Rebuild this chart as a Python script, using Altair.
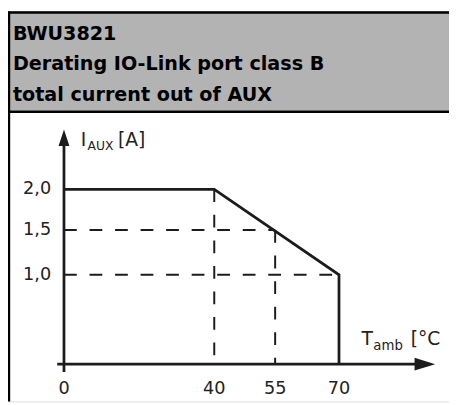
import altair as alt
import pandas as pd

# ---- data ----
title_lines = ["BWU3821", "Derating IO-Link port class B", "total current out of AUX"]

curve_temp = [0, 40, 70, 70]
curve_current = [2.0, 2.0, 1.0, 0.0]

# dashed guide segments (x1, y1) -> (x2, y2)
guide_x1 = [40, 55, 0, 0]
guide_y1 = [2.0, 1.5, 1.5, 1.0]
guide_x2 = [40, 55, 55, 70]
guide_y2 = [0.0, 0.0, 1.5, 1.0]

x_ticks = [0, 40, 55, 70]
x_tick_labels = ["0", "40", "55", "70"]
y_ticks = [1.0, 1.5, 2.0]
y_tick_labels = ["1,0", "1,5", "2,0"]

# axis lines and arrow tips (data units)
x_axis_from, x_axis_to, x_arrow_tip = -1.8, 88.0, 92.6
y_axis_from, y_axis_to, y_arrow_tip = -0.088, 2.6, 2.735

W, H = 449, 397
FONT = "DejaVu Sans"
INK = "#1c1c1c"

# piecewise scales matching the schematic drawing
xs = alt.Scale(domain=[0, 40, 55, 70], range=[57, 210, 272, 337], nice=False, zero=False)
ys = alt.Scale(domain=[0, 1.0, 1.5, 2.0], range=[359, 268, 222.5, 181], nice=False, zero=False)
px = alt.Scale(domain=[0, W], range=[0, W])
py = alt.Scale(domain=[0, H], range=[0, H])

one = pd.DataFrame({"k": [0]})

header = alt.Chart(one).mark_rect(color="#b3b3b3").encode(
    x=alt.value(0), x2=alt.value(W), y=alt.value(0), y2=alt.value(101)
)
header_line = alt.Chart(one).mark_rule(color="black", strokeWidth=2.5).encode(
    x=alt.value(0), x2=alt.value(W), y=alt.value(102)
)
border_left = alt.Chart(one).mark_rule(color="black", strokeWidth=2.5).encode(
    x=alt.value(1), y=alt.value(0), y2=alt.value(H)
)
border_top = alt.Chart(one).mark_rule(color="black", strokeWidth=2.5).encode(
    x=alt.value(0), x2=alt.value(W), y=alt.value(1)
)

title_df = pd.DataFrame({"t": title_lines, "row": [0, 1, 2]})
title = alt.Chart(title_df).mark_text(
    font=FONT, fontSize=19.5, fontWeight="bold", align="left", baseline="alphabetic", color="black"
).encode(
    x=alt.value(5),
    y=alt.Y("row:Q", scale=alt.Scale(domain=[0, 2], range=[29, 91]), axis=None),
    text="t:N",
)

guides_df = pd.DataFrame({"x1": guide_x1, "y1": guide_y1, "x2": guide_x2, "y2": guide_y2})
guides = alt.Chart(guides_df).mark_rule(color=INK, strokeWidth=2, strokeDash=[13, 13]).encode(
    x=alt.X("x1:Q", scale=xs, axis=None),
    y=alt.Y("y1:Q", scale=ys, axis=None),
    x2="x2:Q",
    y2="y2:Q",
)

curve_df = pd.DataFrame({"T": curve_temp, "I": curve_current, "o": range(len(curve_temp))})
curve = alt.Chart(curve_df).mark_line(color=INK, strokeWidth=2.8, strokeJoin="miter").encode(
    x=alt.X("T:Q", scale=xs, axis=None),
    y=alt.Y("I:Q", scale=ys, axis=None),
    order="o:Q",
)

axes_df = pd.DataFrame({
    "x1": [x_axis_from, 0], "y1": [0, y_axis_from],
    "x2": [x_axis_to, 0], "y2": [0, y_axis_to],
})
axes = alt.Chart(axes_df).mark_rule(color=INK, strokeWidth=2.8).encode(
    x=alt.X("x1:Q", scale=xs, axis=None),
    y=alt.Y("y1:Q", scale=ys, axis=None),
    x2="x2:Q",
    y2="y2:Q",
)

arrow_x = alt.Chart(pd.DataFrame({"x": [x_arrow_tip], "y": [0]})).mark_point(
    shape="M0,0L-2,-0.62L-2,0.62Z", size=441, filled=True, color=INK, opacity=1
).encode(x=alt.X("x:Q", scale=xs, axis=None), y=alt.Y("y:Q", scale=ys, axis=None))

arrow_y = alt.Chart(pd.DataFrame({"x": [0], "y": [y_arrow_tip]})).mark_point(
    shape="M0,0L0.65,2L-0.65,2Z", size=289, filled=True, color=INK, opacity=1
).encode(x=alt.X("x:Q", scale=xs, axis=None), y=alt.Y("y:Q", scale=ys, axis=None))

xlab = alt.Chart(pd.DataFrame({"v": x_ticks, "t": x_tick_labels})).mark_text(
    font=FONT, fontSize=18, align="center", baseline="alphabetic", color="#222"
).encode(x=alt.X("v:Q", scale=xs, axis=None), y=alt.value(389), text="t:N")

ylab = alt.Chart(pd.DataFrame({"v": y_ticks, "t": y_tick_labels})).mark_text(
    font=FONT, fontSize=18, align="right", baseline="middle", color="#222"
).encode(x=alt.value(44), y=alt.Y("v:Q", scale=ys, axis=None), text="t:N")

# axis titles (main part, subscript, unit)
ytitle_parts = ["I", "AUX", "[A]"]
ytitle_x = [74, 81, 112]
ytitle_y = [137, 141, 137]
ytitle_size = [19, 12.5, 19]
ytitle = alt.Chart(pd.DataFrame({"t": ytitle_parts, "x": ytitle_x, "y": ytitle_y, "s": ytitle_size})).mark_text(
    font=FONT, align="left", baseline="alphabetic", color="#222"
).encode(
    x=alt.X("x:Q", scale=px, axis=None),
    y=alt.Y("y:Q", scale=py, axis=None),
    size=alt.Size("s:Q", scale=None, legend=None),
    text="t:N",
)

xtitle_parts = ["T", "amb", "[°C"]
xtitle_x = [360, 372, 410]
xtitle_y = [340, 345, 340]
xtitle_size = [19, 13.5, 19]
xtitle = alt.Chart(pd.DataFrame({"t": xtitle_parts, "x": xtitle_x, "y": xtitle_y, "s": xtitle_size})).mark_text(
    font=FONT, align="left", baseline="alphabetic", color="#222"
).encode(
    x=alt.X("x:Q", scale=px, axis=None),
    y=alt.Y("y:Q", scale=py, axis=None),
    size=alt.Size("s:Q", scale=None, legend=None),
    text="t:N",
)

chart = alt.layer(
    header, header_line, border_left, border_top, title,
    guides, axes, curve, arrow_x, arrow_y, xlab, ylab, ytitle, xtitle,
).resolve_scale(x="independent", y="independent").properties(
    width=W, height=H, autosize=alt.AutoSizeParams(type="none"), padding=0
).configure_view(stroke=None).configure(background="white")

chart.save("out.html", embed_options={"renderer": "svg", "actions": False})
